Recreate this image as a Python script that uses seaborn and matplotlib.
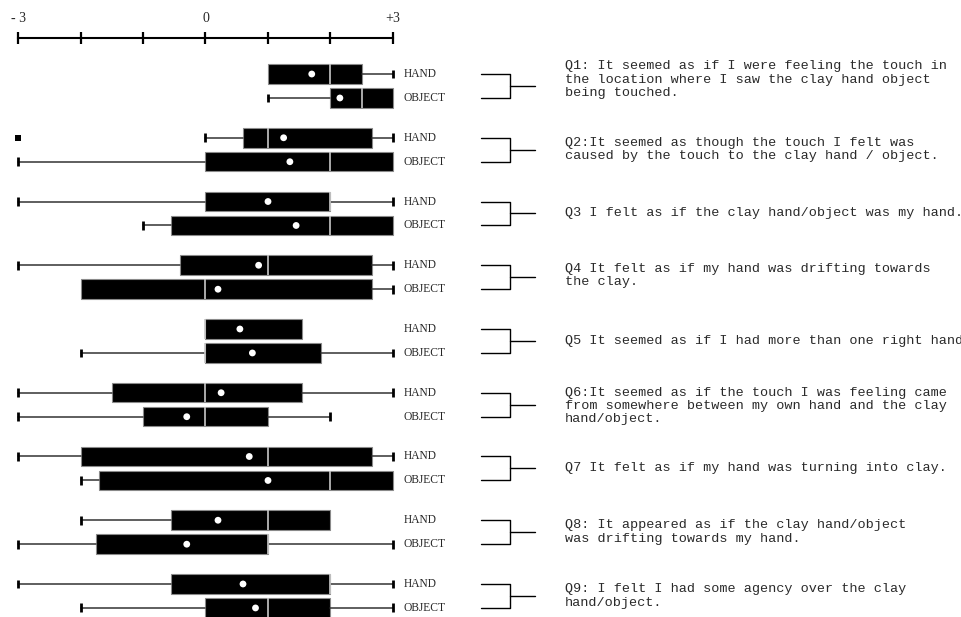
import numpy as np
import pandas as pd
import matplotlib
matplotlib.use("Agg")
import matplotlib.pyplot as plt
import matplotlib.transforms as mtransforms
import seaborn as sns

# 数据：每个问题两个条件（HAND / OBJECT）的箱线图统计量
questions = ["Q1", "Q2", "Q3", "Q4", "Q5", "Q6", "Q7", "Q8", "Q9"]
conditions = ["HAND", "OBJECT"]
# 顺序: Q1 HAND, Q1 OBJECT, Q2 HAND, ...
whis_lo = [1, 1, 0, -3, -3, -1, -3, -2, 0, -2, -3, -3, -3, -2, -2, -3, -3, -2]
q1 = [1, 2, 0.6, 0, 0, -0.55, -0.4, -2, 0, 0, -1.5, -1, -2, -1.7, -0.55, -1.75, -0.55, 0]
median = [2, 2.5, 1, 2, 2, 2, 1, 0, 0, 0, 0, 0, 1, 2, 1, 1, 2, 1]
q3 = [2.5, 3, 2.67, 3, 2, 3, 2.67, 2.67, 1.55, 1.85, 1.55, 1, 2.67, 3, 2, 1, 2, 2]
whis_hi = [3, 3, 3, 3, 3, 3, 3, 3, 1.55, 3, 3, 2, 3, 3, 2, 3, 3, 3]
means = [1.7, 2.15, 1.25, 1.35, 1.0, 1.45, 0.85, 0.2, 0.55, 0.75, 0.25, -0.3, 0.7, 1.0, 0.2, -0.3, 0.6, 0.8]
outliers = {2: [-3]}  # Q2 HAND

question_text = [
    "Q1: It seemed as if I were feeling the touch in\nthe location where I saw the clay hand object\nbeing touched.",
    "Q2:It seemed as though the touch I felt was\ncaused by the touch to the clay hand / object.",
    "Q3 I felt as if the clay hand/object was my hand.",
    "Q4 It felt as if my hand was drifting towards\nthe clay.",
    "Q5 It seemed as if I had more than one right hand",
    "Q6:It seemed as if the touch I was feeling came\nfrom somewhere between my own hand and the clay\nhand/object.",
    "Q7 It felt as if my hand was turning into clay.",
    "Q8: It appeared as if the clay hand/object\nwas drifting towards my hand.",
    "Q9: I felt I had some agency over the clay\nhand/object.",
]
tick_values = [-3, -2, -1, 0, 1, 2, 3]
tick_labels = ["- 3", "", "", "0", "", "", "+3"]

sns.set_theme(style="white")
plt.rcParams['font.family'] = ['Liberation Serif', 'DejaVu Serif']

# 布局
pair_gap = 0.376
box_h = 0.306
text_nudge = [-0.1, 0, 0, -0.03, 0, 0.02, 0, 0, 0]
positions = []
for i in range(len(questions)):
    positions += [i, i + pair_gap]

W, H = 962, 617
fig = plt.figure(figsize=(W / 100, H / 100), dpi=100)
ax = fig.add_axes([11.75 / W, 0, 387.5 / W, 579 / H])

stats = []
for k in range(len(positions)):
    stats.append(dict(med=median[k], q1=q1[k], q3=q3[k], whislo=whis_lo[k],
                      whishi=whis_hi[k], fliers=[], label=conditions[k % 2]))

bp = ax.bxp(stats, positions=positions, widths=box_h, orientation='horizontal',
            patch_artist=True, manage_ticks=False, capwidths=0.14,
            boxprops=dict(facecolor='black', edgecolor='#8a8a8a', linewidth=0.8),
            medianprops=dict(color='#c8c8c8', linewidth=1.2),
            whiskerprops=dict(color='#333333', linewidth=1.1),
            capprops=dict(color='black', linewidth=2.0, solid_capstyle='butt'))
# 长度为0的须不画端线
for k in range(len(positions)):
    if whis_lo[k] == q1[k]:
        bp['caps'][2 * k].set_visible(False)
    if whis_hi[k] == q3[k]:
        bp['caps'][2 * k + 1].set_visible(False)

# 均值（白点）和离群点
df_mean = pd.DataFrame({'mean': means, 'pos': positions})
sns.scatterplot(data=df_mean, x='mean', y='pos', color='white', s=24,
                edgecolor='none', zorder=5, ax=ax, legend=False)
out_x, out_y = [], []
for k, vals in outliers.items():
    out_x += vals
    out_y += [positions[k]] * len(vals)
sns.scatterplot(x=out_x, y=out_y, color='black', marker='s', s=22,
                edgecolor='none', zorder=5, ax=ax, legend=False)

ax.set_xlim(-3.1, 3.1)
ax.set_ylim(8.518, -0.565)
ax.set_yticks([])
ax.set_xlabel('')
ax.set_ylabel('')
ax.xaxis.tick_top()
ax.set_xticks(tick_values)
ax.set_xticklabels(tick_labels)
ax.tick_params(axis='x', direction='inout', length=9, width=1.6, labelsize=10,
               pad=5, color='black', top=True, bottom=False)
for s in ['left', 'right', 'bottom']:
    ax.spines[s].set_visible(False)
ax.spines['top'].set_linewidth(1.5)
ax.spines['top'].set_color('black')
ax.spines['top'].set_bounds(-3, 3)

# 右侧：条件标签、括号、问题文字
trans = mtransforms.blended_transform_factory(fig.transFigure, ax.transData)
for k, p in enumerate(positions):
    ax.text(404 / W, p, conditions[k % 2], transform=trans, fontsize=8.3,
            va='center', ha='left', clip_on=False)
for i, txt in enumerate(question_text):
    ya, yb = positions[2 * i], positions[2 * i + 1]
    ym = (ya + yb) / 2
    ax.plot([481 / W, 510 / W, 510 / W, 481 / W], [ya, ya, yb, yb], transform=trans,
            color='black', lw=1, clip_on=False)
    ax.plot([510 / W, 535 / W], [ym, ym], transform=trans, color='black', lw=1,
            clip_on=False)
    ax.text(565 / W, ym + text_nudge[i], txt, transform=trans, fontsize=9.7,
            va='center', ha='left', family=['Liberation Mono', 'DejaVu Sans Mono'],
            linespacing=1.16, color='#2a2a2a', clip_on=False)

fig.savefig('out.png', dpi=100)
